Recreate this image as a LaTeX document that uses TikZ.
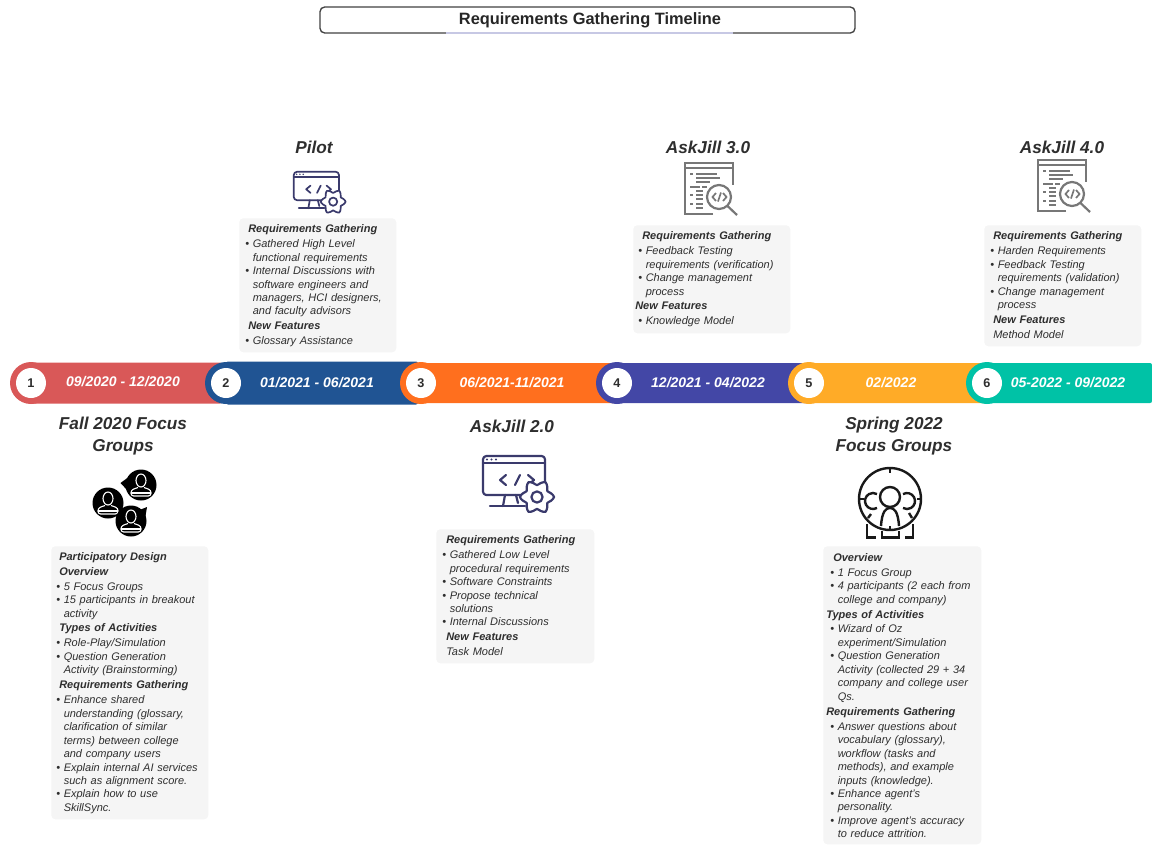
\documentclass[tikz,border=0pt]{standalone}
\usepackage{fontspec}
\setmainfont{Liberation Sans}
\newlength\pxu \setlength\pxu{0.75pt}
\definecolor{cRed}{HTML}{D95858}
\definecolor{cBlue}{HTML}{205493}
\definecolor{cOrange}{HTML}{FF6F1E}
\definecolor{cPurple}{HTML}{4347A6}
\definecolor{cYellow}{HTML}{FFAB27}
\definecolor{cTeal}{HTML}{00C2A6}
\definecolor{cCard}{HTML}{F5F5F5}
\definecolor{cText}{HTML}{2E2E2E}
\definecolor{cNavy}{HTML}{3A3A6C}
\definecolor{cGrey}{HTML}{777777}
\newcommand\hd[2]{\par\vspace{1.1pt}\hspace*{#1\pxu}\textbf{#2}\par\vspace{1.1pt}}
\newcommand\bl[1]{\par\hbox{\hbox to 7.5\pxu{•\hss}#1}}
\newcommand\ct[1]{\par\hbox{\hspace*{7.5\pxu}#1}}
\newcommand\pl[2]{\par\hbox{\hspace*{#1\pxu}#2}}
\tikzset{
  cardbox/.style={fill=cCard,draw=none,rounded corners=3pt,inner sep=0pt,anchor=north west},
  cardtext/.style={anchor=north west,inner sep=0pt,text width=175\pxu,text=cText,
    font=\fontsize{8.25}{10.1}\selectfont\itshape},
  phase/.style={font=\fontsize{12.9}{16}\selectfont\bfseries\itshape,text=cText,align=center,inner sep=0pt},
  datelab/.style={font=\fontsize{10.5}{12}\selectfont\bfseries\itshape,text=white,inner sep=0pt},
  numdot/.style={circle,fill=white,minimum size=30\pxu,inner sep=0pt,text=cText,
    font=\fontsize{9.5}{10}\selectfont\bfseries},
}
% timeline segment: left-circle centre x, right end x, half height, colour
\newcommand\tlseg[4]{%
  \fill[#4] (#1,383) circle[radius=21];
  \fill[#4,rounded corners=1.5pt] (#1,383-#3) rectangle (#2,383+#3);
}
% monitor + gear icon, origin top-left, designed 71 x 58 px
\newcommand\monitoricon[4]{%
 \begin{scope}[shift={(#1,#2)},scale=#3,line width=#4*\pxu,draw=cNavy,line cap=round,line join=round]
  \draw[rounded corners=2.5pt] (41,40) -- (1,40) -- (1,1) -- (63,1) -- (63,27);
  \draw (1,8) -- (63,8);
  \fill[cNavy] (5,4.5) circle[radius=1.1] (9.5,4.5) circle[radius=1.1] (14,4.5) circle[radius=1.1];
  \draw (24,20) -- (18,25) -- (24,30);
  \draw (33,30) -- (38,20);
  \draw (46,20) -- (52,25) -- (46,30);
  \draw (23,40) -- (21,51);
  \draw (34,40) -- (36,48);
  \draw (8,51) -- (43,51);
  \draw[fill=white] plot[smooth cycle,domain=0:345,samples=24] ({55+(14.5+2.6*cos(6*\x))*cos(\x)},{42+(14.5+2.6*cos(6*\x))*sin(\x)});
  \draw (55,42) circle[radius=5.6];
 \end{scope}}
% document + magnifier icon, origin top-left, designed 53 x 53 px
\newcommand\searchicon[3]{%
 \begin{scope}[shift={(#1,#2)},draw=cGrey,line width=2.2*\pxu,line cap=butt]
  \draw (28,51) -- (0,51) -- (0,0) -- (48,0) -- (48,22);
  \draw (0,5) -- (48,5);
  \foreach \xa/\xb/\yy in {5/8/11,11/32/11,11/35/15,11/25/19,5/15/24,17/22/24,11/18/28,5/8/32,11/18/32,11/18/36,5/8/41,11/18/41,11/18/45}
    \draw[line width=2.2*\pxu] (\xa,\yy) -- (\xb,\yy);
  \draw[fill=white] (34,34) circle[radius=12];
  \draw[line width=1.7*\pxu] (31,30) -- (27.5,34) -- (31,38);
  \draw[line width=1.7*\pxu] (33,38.5) -- (36,29.5);
  \draw[line width=1.7*\pxu] (38,30) -- (41.5,34) -- (38,38);
  \draw (42.5,43) -- (52,52);
 \end{scope}}
% black bubble with a white-lined person
\newcommand\personbubble[2]{%
 \begin{scope}[shift={(#1,#2)}]
  \fill[black] (0,0) circle[radius=15.5];
  \draw[white,line width=1.1*\pxu] (0,-4.5) ellipse[x radius=5,y radius=6.5];
  \draw[white,line width=1.1*\pxu,rounded corners=2pt] (-3,2.5) -- (-10,5) -- (-10,11) -- (10,11) -- (10,5) -- (3,2.5);
  \draw[white,line width=1.1*\pxu] (-10,8) -- (10,8);
 \end{scope}}
\begin{document}
\begin{tikzpicture}[x=0.75pt,y=-0.75pt]
\useasboundingbox (0,0) rectangle (1152,844);
% title
\node[draw=black!75,line width=1pt,rounded corners=3.5pt,minimum width=535\pxu,minimum height=26\pxu,inner sep=0pt,text=black!85] (title) at (587.5,20) {};
\node[font=\fontsize{12.3}{14}\selectfont\bfseries,text=black!85,inner sep=0pt] (titletext) at (590,20) {Requirements Gathering Timeline};
\coordinate (tla) at (446,33);
\coordinate (tlb) at (733,33);
\draw[color=cPurple!30,line width=0.8pt] (tla) -- (tlb);

% timeline bands
\tlseg{31}{222}{20.5}{cRed}
\tlseg{226}{418}{21.5}{cBlue}
\tlseg{421}{620}{20}{cOrange}
\tlseg{617}{812}{20}{cPurple}
\tlseg{809}{990}{20}{cYellow}
\tlseg{987}{1152}{20}{cTeal}
\node[numdot] (n1) at (31,383) {1};
\node[numdot] (n2) at (226,383) {2};
\node[numdot] (n3) at (421,383) {3};
\node[numdot] (n4) at (617,383) {4};
\node[numdot] (n5) at (809,383) {5};
\node[numdot] (n6) at (987,383) {6};
\node[datelab] (d1) at (123,381.5) {09/2020 - 12/2020};
\node[datelab] (d2) at (317,383) {01/2021 - 06/2021};
\node[datelab] (d3) at (512,383) {06/2021-11/2021};
\node[datelab] (d4) at (708,383) {12/2021 - 04/2022};
\node[datelab] (d5) at (891,383) {02/2022};
\node[datelab] (d6) at (1068,383) {05-2022 - 09/2022};

% phase headings
\node[phase] (hPilot) at (314,147) {Pilot};
\node[phase] (hA3) at (708,147) {AskJill 3.0};
\node[phase] (hA4) at (1062,147) {AskJill 4.0};
\node[phase] (hFall) at (123,436) {Fall 2020 Focus\\Groups};
\node[phase] (hA2) at (512,426) {AskJill 2.0};
\node[phase] (hSpring) at (894,436) {Spring 2022\\Focus Groups};

% icons
\monitoricon{293}{171}{0.73}{1.7}
\monitoricon{482}{455}{1}{2.2}
\searchicon{685}{163}{}
\searchicon{1038}{160}{}
\fill[black] (130,476) -- (120.5,483) -- (128,491) -- cycle;
\fill[black] (137,511) -- (147,507) -- (145,519) -- cycle;
\personbubble{141}{485}
\personbubble{108}{503}
\personbubble{131}{521}
\begin{scope}[shift={(890,499)},line width=2.4*\pxu,draw=black!90]
  \draw (0,0) circle[radius=31];
  \draw (0,-31) -- (0,-26.5) (0,31) -- (0,26.5) (-31,0) -- (-26.5,0) (31,0) -- (26.5,0);
  \draw (0,-2) circle[radius=10];
  \draw (-13,8.9) arc[start angle=60,end angle=300,radius=8];
  \draw (13,-4.9) arc[start angle=240,end angle=480,radius=8];
  \draw (-9,27) .. controls (-8,12) and (-4,9) .. (0,9) .. controls (4,9) and (8,12) .. (9,27);
  \draw (-19,15) -- (-22,19) (19,14) -- (22,19);
  \draw (-23,25) -- (-23,38.5) -- (-14,38.5);
  \draw (-8,32) -- (-8,38.5) -- (9,38.5) -- (9,32);
  \draw (23,25) -- (23,38.5) -- (15,38.5);
\end{scope}

% cards
\node[cardbox,minimum width=157\pxu,minimum height=134\pxu] (cPilot) at (239,218) {};
\node[cardbox,minimum width=157\pxu,minimum height=108\pxu] (cA3) at (633,225) {};
\node[cardbox,minimum width=157\pxu,minimum height=121\pxu] (cA4) at (984,225) {};
\node[cardbox,minimum width=157\pxu,minimum height=273\pxu] (cFall) at (51,546) {};
\node[cardbox,minimum width=158\pxu,minimum height=134\pxu] (cA2) at (436,529) {};
\node[cardbox,minimum width=158\pxu,minimum height=298\pxu] (cSpring) at (823,546) {};

\node[cardtext] (tPilot) at (245,217.5) {%
  \hd{3}{Requirements Gathering}
  \bl{Gathered High Level}\ct{functional requirements}
  \bl{Internal Discussions with}\ct{software engineers and}\ct{managers, HCI designers,}\ct{and faculty advisors}
  \hd{3}{New Features}
  \bl{Glossary Assistance}\par};
\node[cardtext] (tA3) at (638,224.5) {%
  \hd{4}{Requirements Gathering}
  \bl{Feedback Testing}\ct{requirements (verification)}
  \bl{Change management}\ct{process}
  \hd{-3}{New Features}
  \bl{Knowledge Model}\par};
\node[cardtext] (tA4) at (990,224.5) {%
  \hd{3}{Requirements Gathering}
  \bl{Harden Requirements}
  \bl{Feedback Testing}\ct{requirements (validation)}
  \bl{Change management}\ct{process}
  \hd{3}{New Features}
  \pl{3}{Method Model}\par};
\node[cardtext] (tFall) at (56,546.5) {%
  \pl{3}{\textbf{Participatory Design}}
  \hd{3}{Overview}
  \bl{5 Focus Groups}
  \bl{15 participants in breakout}\ct{activity}
  \hd{3}{Types of Activities}
  \bl{Role-Play/Simulation}
  \bl{Question Generation}\ct{Activity (Brainstorming)}
  \hd{3}{Requirements Gathering}
  \bl{Enhance shared}\ct{understanding (glossary,}\ct{clarification of similar}\ct{terms) between college}\ct{and company users}
  \bl{Explain internal AI services}\ct{such as alignment score.}
  \bl{Explain how to use}\ct{SkillSync.}\par};
\node[cardtext] (tA2) at (442,528.5) {%
  \hd{4}{Requirements Gathering}
  \bl{Gathered Low Level}\ct{procedural requirements}
  \bl{Software Constraints}
  \bl{Propose technical}\ct{solutions}
  \bl{Internal Discussions}
  \hd{4}{New Features}
  \pl{4}{Task Model}\par};
\node[cardtext] (tSpring) at (830,546) {%
  \hd{3}{Overview}
  \bl{1 Focus Group}
  \bl{4 participants (2 each from}\ct{college and company)}
  \hd{-4}{Types of Activities}
  \bl{Wizard of Oz}\ct{experiment/Simulation}
  \bl{Question Generation}\ct{Activity (collected 29 + 34}\ct{company and college user}\ct{Qs.}
  \hd{-4}{Requirements Gathering}
  \bl{Answer questions about}\ct{vocabulary (glossary),}\ct{workflow (tasks and}\ct{methods), and example}\ct{inputs (knowledge).}
  \bl{Enhance agent's}\ct{personality.}
  \bl{Improve agent's accuracy}\ct{to reduce attrition.}\par};
\end{tikzpicture}
\end{document}
